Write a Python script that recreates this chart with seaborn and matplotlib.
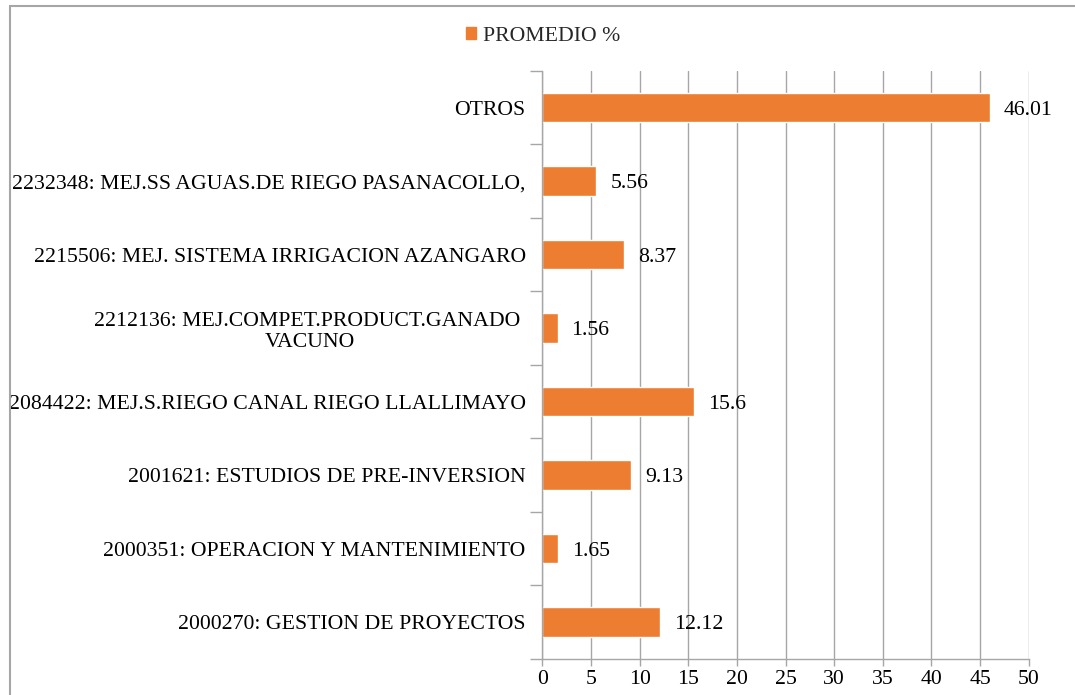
import numpy as np
import pandas as pd
import matplotlib
matplotlib.use("Agg")
import matplotlib.pyplot as plt
import seaborn as sns
from matplotlib.patches import Patch, Rectangle
from matplotlib.ticker import FixedLocator

# data, top to bottom as drawn
proyectos = [
    "OTROS",
    "2232348: MEJ.SS AGUAS.DE RIEGO PASANACOLLO,",
    "2215506: MEJ. SISTEMA IRRIGACION AZANGARO",
    "2212136: MEJ.COMPET.PRODUCT.GANADO \nVACUNO",
    "2084422: MEJ.S.RIEGO CANAL RIEGO LLALLIMAYO",
    "2001621: ESTUDIOS DE PRE-INVERSION",
    "2000351: OPERACION Y MANTENIMIENTO",
    "2000270: GESTION DE PROYECTOS",
]
promedio = [46.01, 5.56, 8.37, 1.56, 15.6, 9.13, 1.65, 12.12]
x_ticks = [0, 5, 10, 15, 20, 25, 30, 35, 40, 45, 50]

ORANGE = "#ED7D31"
GRID = "#A6A6A6"
FS = 15.7

sns.set_theme(style="white")
plt.rcParams["font.family"] = ["Liberation Serif", "DejaVu Serif"]
plt.rcParams["font.size"] = FS

df = pd.DataFrame({"proyecto": proyectos, "promedio": promedio})

fig = plt.figure(figsize=(10.75, 6.95), dpi=100)
ax = fig.add_axes([0.5045, 0.052, 0.4525, 0.846])

sns.barplot(data=df, y="proyecto", x="promedio", orient="h", color=ORANGE,
            saturation=1, width=0.40, ax=ax, zorder=2)

anns = ax.bar_label(ax.containers[0], labels=[f"{v:g}" for v in promedio],
                    padding=10, fontsize=FS, color="black")
for a in anns:
    a.xyann = (10, -2)

ax.set_xlim(0, 50)
ax.set_xticks(x_ticks)
ax.set_xlabel("")
ax.set_ylabel("")
ax.grid(axis="x", color=GRID, lw=1, zorder=0)
ax.set_axisbelow(True)

for s in ["top", "right"]:
    ax.spines[s].set_visible(False)
for s in ["left", "bottom"]:
    ax.spines[s].set_color(GRID)
    ax.spines[s].set_linewidth(1)

n = len(proyectos)
ax.set_ylim(n - 0.5, -0.5)
ax.yaxis.set_minor_locator(FixedLocator(np.arange(-0.5, n, 1)))
ax.tick_params(axis="y", which="major", length=0, pad=12, labelsize=FS,
               labelcolor="black")
ax.tick_params(axis="y", which="minor", length=9, color=GRID, width=1,
               left=True)
ax.tick_params(axis="x", which="major", length=5, color=GRID, width=1,
               bottom=True, labelsize=FS, labelcolor="black", pad=3)

for lbl in ax.get_yticklabels():
    lbl.set_multialignment("center")

handle = Patch(facecolor=ORANGE, edgecolor=ORANGE)
fig.legend(handles=[handle], labels=["PROMEDIO %"], loc="center",
           bbox_to_anchor=(0.505, 0.948), frameon=False, fontsize=FS,
           handlelength=0.5, handleheight=0.5, handletextpad=0.3)

# chart area border
fig.add_artist(Rectangle((10 / 1075, -0.05), 1.1, 1 - 6 / 695 + 0.05,
                         transform=fig.transFigure, fill=False,
                         edgecolor=GRID, lw=1.5))

fig.savefig("out.png", dpi=100)
